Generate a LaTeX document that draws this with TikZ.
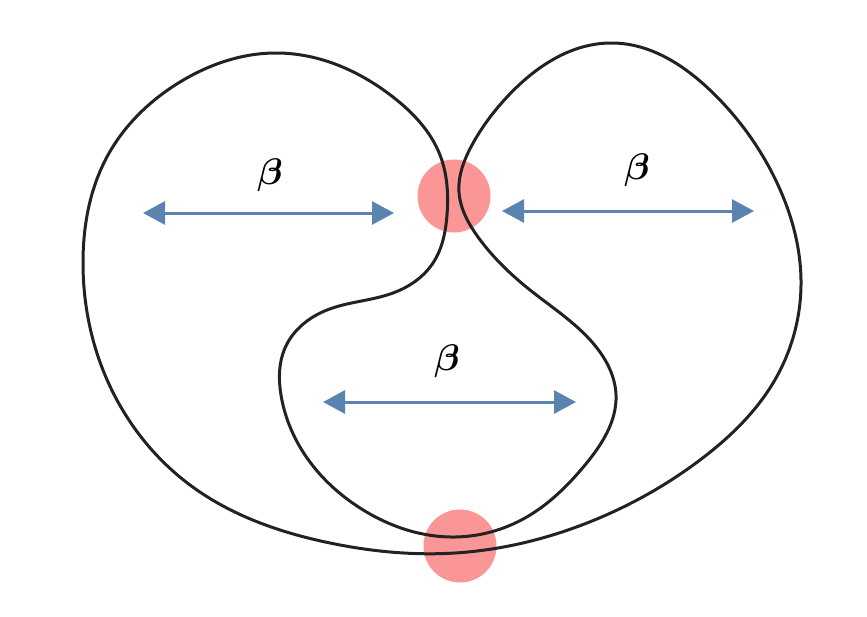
\documentclass[tikz,border=0pt]{standalone}
\usepackage{bm}
\usetikzlibrary{arrows.meta,hobby}
\definecolor{curvecol}{RGB}{34,34,34}
\definecolor{arrowblue}{RGB}{91,131,176}
\definecolor{dotred}{RGB}{250,150,150}
\begin{document}
\begin{tikzpicture}[x=1pt,y=-1pt,
  dot/.style={circle,fill=dotred,minimum size=73pt,inner sep=0pt},
  barrow/.style={draw=arrowblue,line width=3pt,{Triangle[length=22pt,width=23pt]}-{Triangle[length=22pt,width=23pt]}},
  lbl/.style={inner sep=0pt},
  loop/.style={draw=curvecol,line width=3pt}]
\useasboundingbox (0,0) rectangle (867,616);
% red contact dots
\node[dot] (topdot) at (454,196) {};
\node[dot] (botdot) at (460,546) {};
% the closed curve
\draw[loop, use Hobby shortcut, closed=true]
  (277,53) .. (393,97) .. (440,155) .. (447,215) .. (433,263) .. (393,293) ..
  (327,310) .. (285,348) .. (281,395) .. (305,455) .. (360,508) .. (455,537) ..
  (525,518) .. (585,465) .. (616,395) .. (592,342) .. (530,290) .. (478,237) ..
  (459,192) .. (472,145) .. (507,97) .. (613,43) .. (712,92) .. (778,185) ..
  (801,280) .. (776,378) .. (700,460) .. (587,523) .. (455,553) .. (330,543) ..
  (190,485) .. (105,375) .. (83,262) .. (108,155) .. (180,82);
% arrows
\coordinate (a1l) at (143,213);
\coordinate (a1r) at (394,213);
\coordinate (a2l) at (502,211);
\coordinate (a2r) at (754,211);
\coordinate (a3l) at (323,402);
\coordinate (a3r) at (576,402);
\draw[barrow] (a1l) -- (a1r);
\draw[barrow] (a2l) -- (a2r);
\draw[barrow] (a3l) -- (a3r);
% labels
\node[lbl] (b1) at (270,175) {\scalebox{3.7}{$\bm{\beta}$}};
\node[lbl] (b2) at (637,170) {\scalebox{3.7}{$\bm{\beta}$}};
\node[lbl] (b3) at (447,361) {\scalebox{3.7}{$\bm{\beta}$}};
\end{tikzpicture}
\end{document}
